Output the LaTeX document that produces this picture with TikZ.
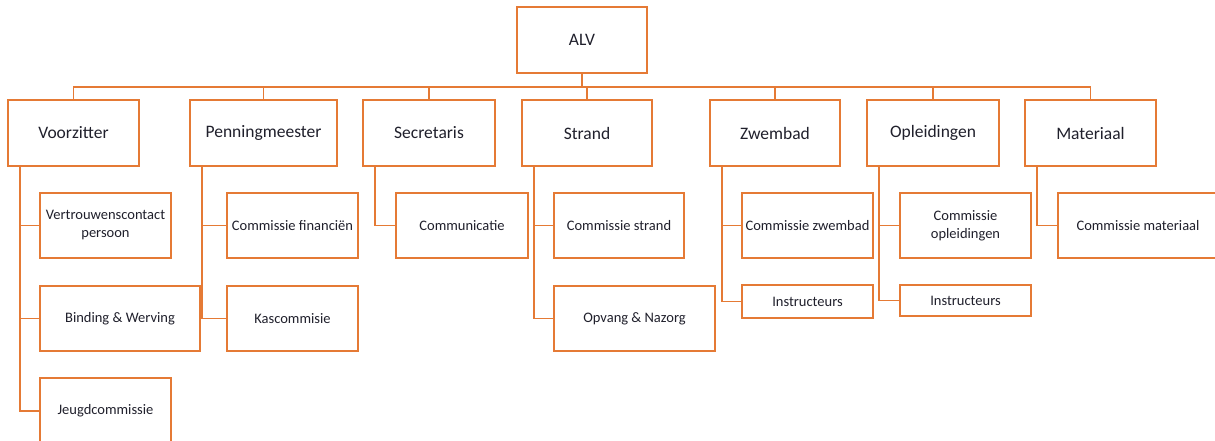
\documentclass[tikz,border=0pt]{standalone}
\usepackage{fontspec}
\setmainfont{Carlito}
\definecolor{org}{HTML}{E57A35}
\definecolor{txt}{RGB}{32,32,44}
\begin{document}
\begin{tikzpicture}[x=1pt,y=-1pt,
  box/.style={draw=org,line width=1.6pt,fill=white,inner sep=0pt,align=center,text=txt},
  top/.style={box,minimum height=66pt,font=\fontsize{17.5}{20}\selectfont},
  sub/.style={box,minimum height=65pt,font=\fontsize{14.5}{18}\selectfont},
  con/.style={draw=org,line width=1.6pt}]
\path[use as bounding box] (0,0) rectangle (1215,441);
\clip (0,0) rectangle (1215,441);
\fill[white] (0,0) rectangle (1215,441);
% top
\node[top,minimum width=130pt] (alv) at (582,40) {ALV};
\node[top,minimum width=131pt] (vz) at (73.5,133) {Voorzitter};
\node[top,minimum width=147pt] (pm) at (263.5,133) {Penningmeester};
\node[top,minimum width=132pt] (sec) at (429,133) {Secretaris};
\node[top,minimum width=130pt] (str) at (587,133) {Strand};
\node[top,minimum width=130pt] (zw) at (775,133) {Zwembad};
\node[top,minimum width=132pt] (opl) at (933,133) {Opleidingen};
\node[top,minimum width=131pt] (mat) at (1090.5,133) {Materiaal};
% subs
\node[sub,minimum width=131pt] (vcp) at (105.5,225.5) {Vertrouwenscontact\\persoon};
\node[sub,minimum width=160pt] (bw) at (120,318.5) {Binding \& Werving};
\node[sub,minimum width=131pt,minimum height=66pt] (jc) at (105.5,411) {Jeugdcommissie};
\node[sub,minimum width=131pt] (cf) at (292.5,225.5) {Commissie financiën};
\node[sub,minimum width=131pt] (kc) at (292.5,318.5) {Kascommisie};
\node[sub,minimum width=132pt] (com) at (462,225.5) {Communicatie};
\node[sub,minimum width=130pt] (cs) at (619,225.5) {Commissie strand};
\node[sub,minimum width=161pt] (on) at (634.5,318.5) {Opvang \& Nazorg};
\node[sub,minimum width=131pt] (cz) at (807.5,225.5) {Commissie zwembad};
\node[sub,minimum width=131pt,minimum height=33pt] (iz) at (807.5,301.5) {Instructeurs};
\node[sub,minimum width=131pt] (co) at (965.5,225.5) {Commissie\\opleidingen};
\node[sub,minimum width=131pt,minimum height=31pt] (io) at (965.5,300.5) {Instructeurs};
\node[sub,minimum width=160pt] (cm) at (1138,225.5) {Commissie materiaal};
% bus
\coordinate (bus) at (582,87);
\draw[con] (alv.south) -- (bus);
\draw[con] (vz.north) |- (bus) -| (mat.north);
\foreach \n in {pm,sec,str,zw,opl}{\draw[con] (\n.north) -- (\n.north |- bus);}
% children
\foreach \p/\c in {vz/vcp,vz/bw,vz/jc,pm/cf,pm/kc,sec/com,str/cs,str/on,zw/cz,zw/iz,opl/co,opl/io,mat/cm}{
  \draw[con] ([xshift=13pt]\p.south west) |- (\c.west);
}
\end{tikzpicture}
\end{document}
